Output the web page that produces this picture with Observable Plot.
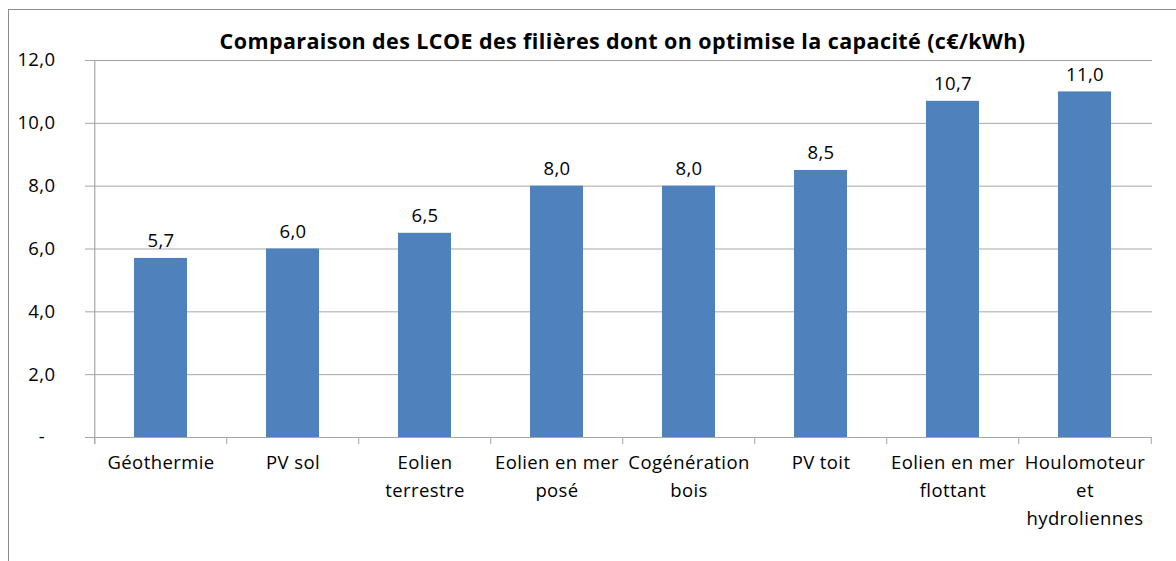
<!DOCTYPE html>
<html>
<head>
<meta charset="utf-8">
<script src="https://cdn.jsdelivr.net/npm/d3@7"></script>
<script src="https://cdn.jsdelivr.net/npm/@observablehq/plot@0.6"></script>
<style>
  html, body { margin: 0; padding: 0; background: #fff; }
  #wrap { position: relative; width: 1176px; height: 561px; overflow: hidden; }
  #border { position: absolute; left: 8px; top: 9px; width: 1300px; height: 700px;
            border-left: 1.5px solid #8c8c8c; border-top: 1.5px solid #8c8c8c; }
  #chart { position: absolute; left: 0; top: 0; }
  #chart svg text { letter-spacing: 0.4px; }
  #chart svg g[aria-label="y-axis tick label"] { font-size: 18.5px; }
</style>
</head>
<body>
<div id="wrap"><div id="border"></div><div id="chart"></div></div>
<script>
const title = "Comparaison des LCOE des filières dont on optimise la capacité (c€/kWh)";
const categories = ["Géothermie", "PV sol", "Eolien terrestre", "Eolien en mer posé",
  "Cogénération bois", "PV toit", "Eolien en mer flottant", "Houlomoteur et hydroliennes"];
const labels = ["Géothermie", "PV sol", "Eolien\nterrestre", "Eolien en mer\nposé",
  "Cogénération\nbois", "PV toit", "Eolien en mer\nflottant", "Houlomoteur\net\nhydroliennes"];
const values = [5.7, 6.0, 6.5, 8.0, 8.0, 8.5, 10.7, 11.0];
const yTicks = [0, 2, 4, 6, 8, 10, 12];

const data = categories.map((c, i) => ({cat: c, label: labels[i], value: values[i]}));
const fmt = d => d === 0 ? "-\u00a0\u00a0" : d.toFixed(1).replace(".", ",");

const W = 1176, H = 561, mL = 92, mR = 24, mT = 60, mB = 124;
const step = (W - mL - mR) / categories.length;
const grey = "#a6a6a6";

const chart = Plot.plot({
  width: W, height: H,
  marginLeft: mL, marginRight: mR, marginTop: mT, marginBottom: mB,
  style: {fontFamily: "'Open Sans', sans-serif", fontSize: "18.5px", color: "#000", background: "transparent"},
  x: {type: "band", domain: categories, paddingInner: 0.6, paddingOuter: 0.3, align: 0.5, axis: null},
  y: {domain: [0, 12], ticks: yTicks, tickFormat: fmt, label: null},
  marks: [
    Plot.ruleY(yTicks.filter(d => d > 0), {stroke: grey, strokeWidth: 1, insetLeft: -7}),
    Plot.axisY({ticks: yTicks, tickFormat: fmt, tickSize: 0, tickPadding: 37, fontSize: 18.5, color: "#000", label: null}),
    Plot.ruleX(categories.slice(0, 1), {x: d => d, y1: 12, y2: 0, insetBottom: -7, dx: -step / 2, stroke: grey, strokeWidth: 1.2}),
    Plot.ruleY([0], {stroke: grey, insetLeft: -7}),
    Plot.ruleX(categories, {x: d => d, y1: 0, y2: 0, insetBottom: -7, dx: -step / 2, stroke: grey}),
    Plot.ruleX(categories.slice(-1), {x: d => d, y1: 0, y2: 0, insetBottom: -7, dx: step / 2, stroke: grey}),
    Plot.barY(data, {x: "cat", y: "value", fill: "#4f81bd"}),
    Plot.text(data, {x: "cat", y: "value", text: d => fmt(d.value), lineAnchor: "bottom", dy: -11, fontSize: 18.5, fill: "#000"}),
    Plot.text(data, {x: "cat", text: "label", frameAnchor: "bottom", lineAnchor: "top", dy: 12, lineHeight: 1.5, fontSize: 18.5, fill: "#000"}),
    Plot.text([title], {frameAnchor: "top", dy: -18, lineAnchor: "middle", fontSize: 21.5, fontWeight: "bold", fill: "#000"})
  ]
});
document.getElementById("chart").appendChild(chart);
</script>
</body>
</html>
